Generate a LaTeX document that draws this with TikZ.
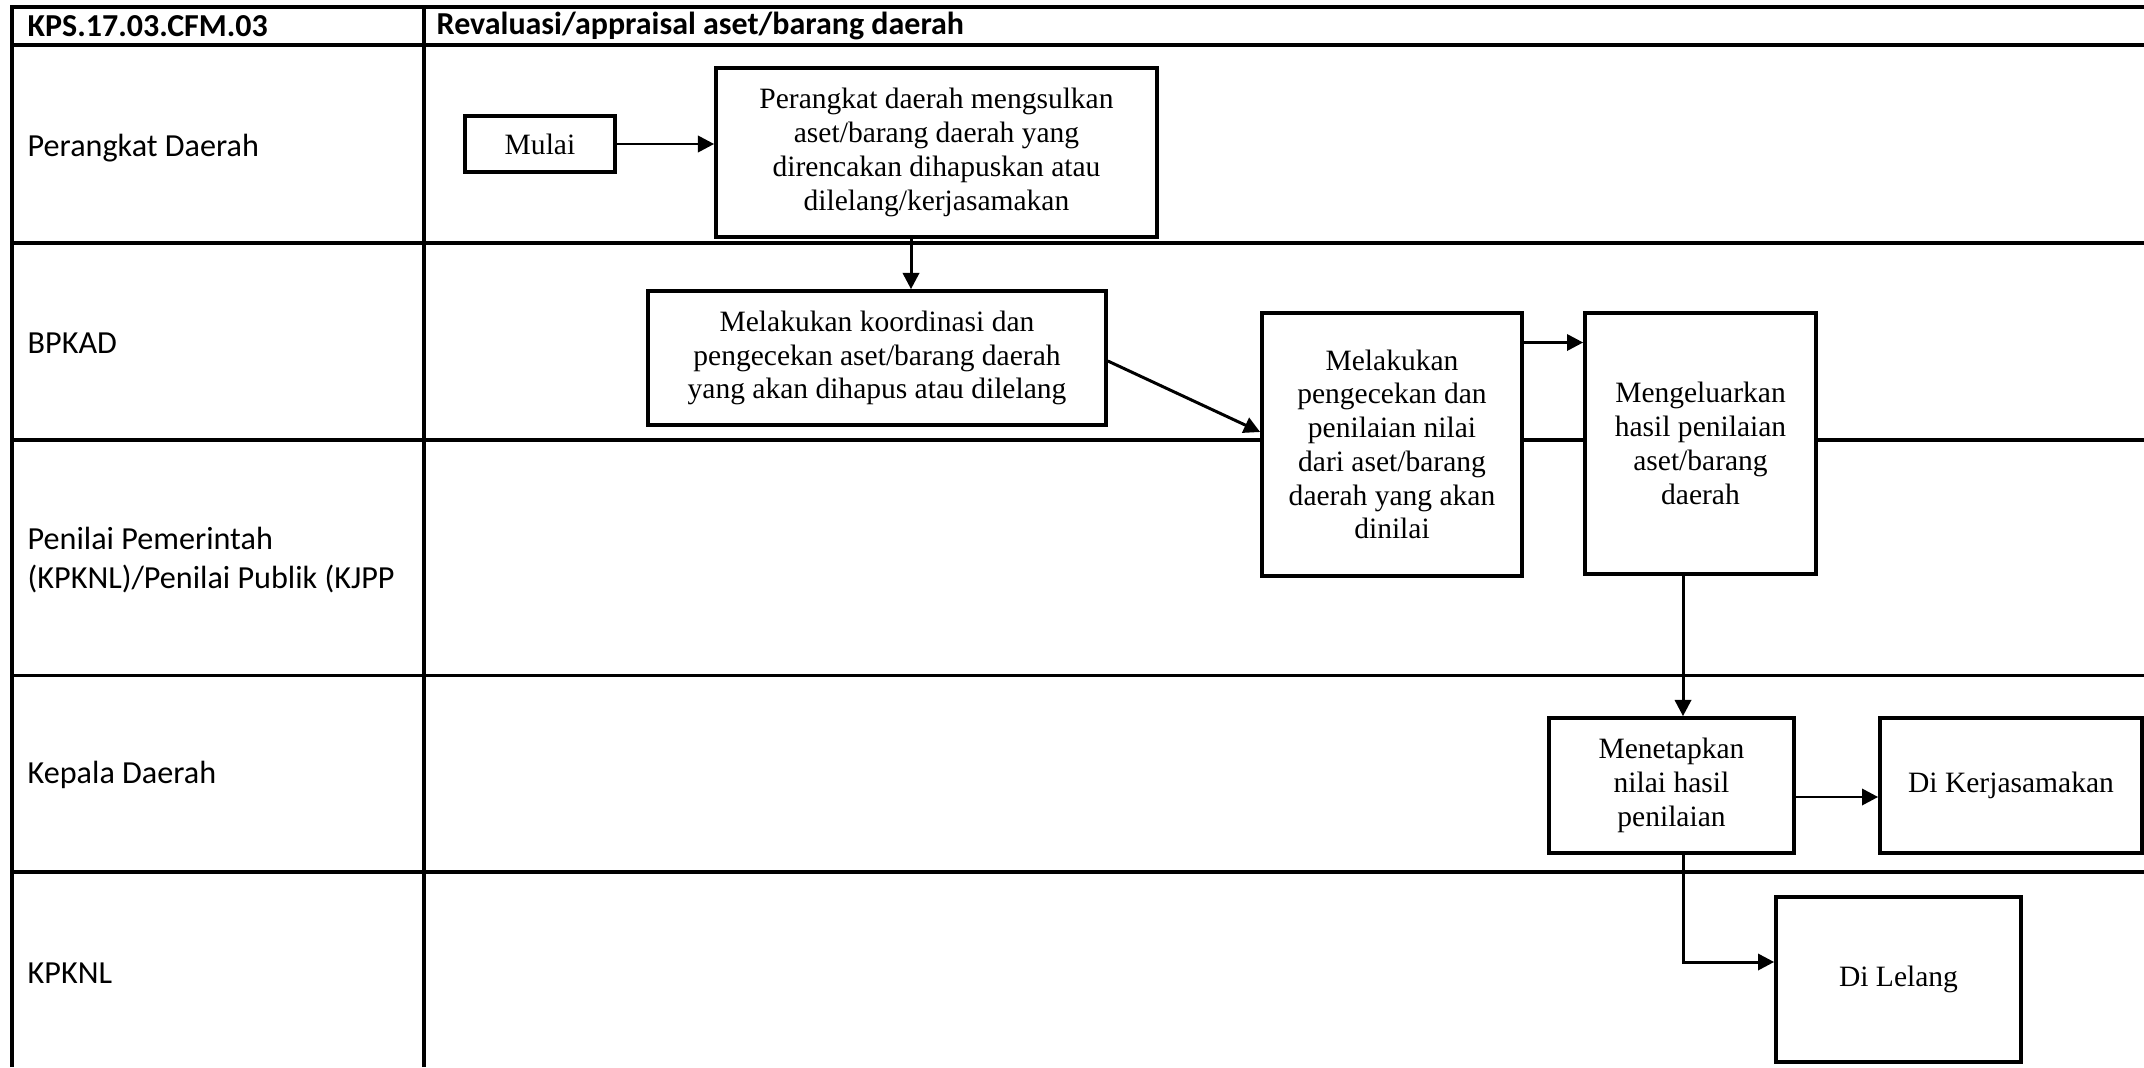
\documentclass[tikz,border=0pt]{standalone}
\usepackage{fontspec}
\setmainfont{Liberation Serif}
\newfontfamily\lanefont{Carlito}
\usetikzlibrary{arrows.meta, positioning}

\begin{document}
\begin{tikzpicture}[
    lane/.style={anchor=west, align=left, inner sep=0pt, font=\lanefont\fontsize{9.15}{11.3}\selectfont},
    head/.style={anchor=west, inner sep=0pt, font=\lanefont\bfseries\fontsize{9.1}{11}\selectfont},
    task/.style={rectangle, draw=black, line width=1.05pt, fill=white, align=center, inner sep=0pt, font=\fontsize{8.4}{9.6}\selectfont},
    grid/.style={line width=0.95pt},
    arrow/.style={-{Triangle[length=4.6pt, width=4.6pt]}, line width=0.85pt}
]
    \useasboundingbox (0,0) rectangle (21.44,10.67);

    % Table
    \draw[grid] (0.12,0) -- (0.12,10.60) -- (21.44,10.60);
    \draw[grid] (0.12,10.22) -- (21.44,10.22);
    \draw[grid] (4.24,0) -- (4.24,10.60);
    \foreach \y in {8.24, 6.27, 3.915, 1.95}
        \draw[grid] (0.12,\y) -- (21.44,\y);

    % Header
    \node[head] (code) at (0.27,10.41) {KPS.17.03.CFM.03};
    \node[head] (title) at (4.36,10.41) {Revaluasi/appraisal aset/barang daerah};

    % Lanes
    \node[lane] (pd) at (0.27,9.19) {Perangkat Daerah};
    \node[lane] (bpkad) at (0.27,7.24) {BPKAD};
    \node[lane] (penilai) at (0.27,5.07) {Penilai Pemerintah\\(KPKNL)/Penilai Publik (KJPP};
    \node[lane] (kd) at (0.27,2.92) {Kepala Daerah};
    \node[lane] (kpknl) at (0.27,0.935) {KPKNL};

    % Tasks
    \node[task, minimum width=1.50cm, minimum height=0.56cm] (mulai) at (5.40,9.23) {Mulai};
    \node[task, minimum width=4.41cm, minimum height=1.69cm] (usul) at (9.365,9.145)
        {Perangkat daerah mengsulkan\\aset/barang daerah yang\\direncakan dihapuskan atau\\dilelang/kerjasamakan};
    \node[task, minimum width=4.58cm, minimum height=1.34cm] (koord) at (8.77,7.09)
        {Melakukan koordinasi dan\\pengecekan aset/barang daerah\\yang akan dihapus atau dilelang};
    \node[task, minimum width=2.60cm, minimum height=2.63cm] (nilai) at (13.92,6.225)
        {Melakukan\\pengecekan dan\\penilaian nilai\\dari aset/barang\\daerah yang akan\\dinilai};
    \node[task, minimum width=2.31cm, minimum height=2.61cm] (hasil) at (17.005,6.235)
        {Mengeluarkan\\hasil penilaian\\aset/barang\\daerah};
    \node[task, minimum width=2.45cm, minimum height=1.35cm] (tetap) at (16.715,2.815)
        {Menetapkan\\nilai hasil\\penilaian};
    \node[task, minimum width=2.62cm, minimum height=1.35cm] (kerja) at (20.11,2.815) {Di Kerjasamakan};
    \node[task, minimum width=2.45cm, minimum height=1.65cm] (lelang) at (18.985,0.875) {Di Lelang};

    % Flow
    \draw[arrow] (mulai.east) -- (mulai.east -| usul.west);
    \draw[arrow] ([xshift=-2.55mm]usul.south) -- ([xshift=-2.55mm]usul.south |- koord.north);
    \draw[arrow] ([yshift=-0.3mm]koord.east) -- ([yshift=1.25mm]nilai.west);
    \draw[arrow] ([yshift=10.2mm]nilai.east) -- ([yshift=10.2mm]nilai.east -| hasil.west);
    \draw[arrow] ([xshift=-1.75mm]hasil.south) -- ([xshift=-1.75mm]hasil.south |- tetap.north);
    \draw[arrow] ([yshift=-1.15mm]tetap.east) -- ([yshift=-1.15mm]tetap.east -| kerja.west);
    \draw[arrow] ([xshift=1.15mm]tetap.south) |- ([yshift=1.75mm]lelang.west);

\end{tikzpicture}
\end{document}
